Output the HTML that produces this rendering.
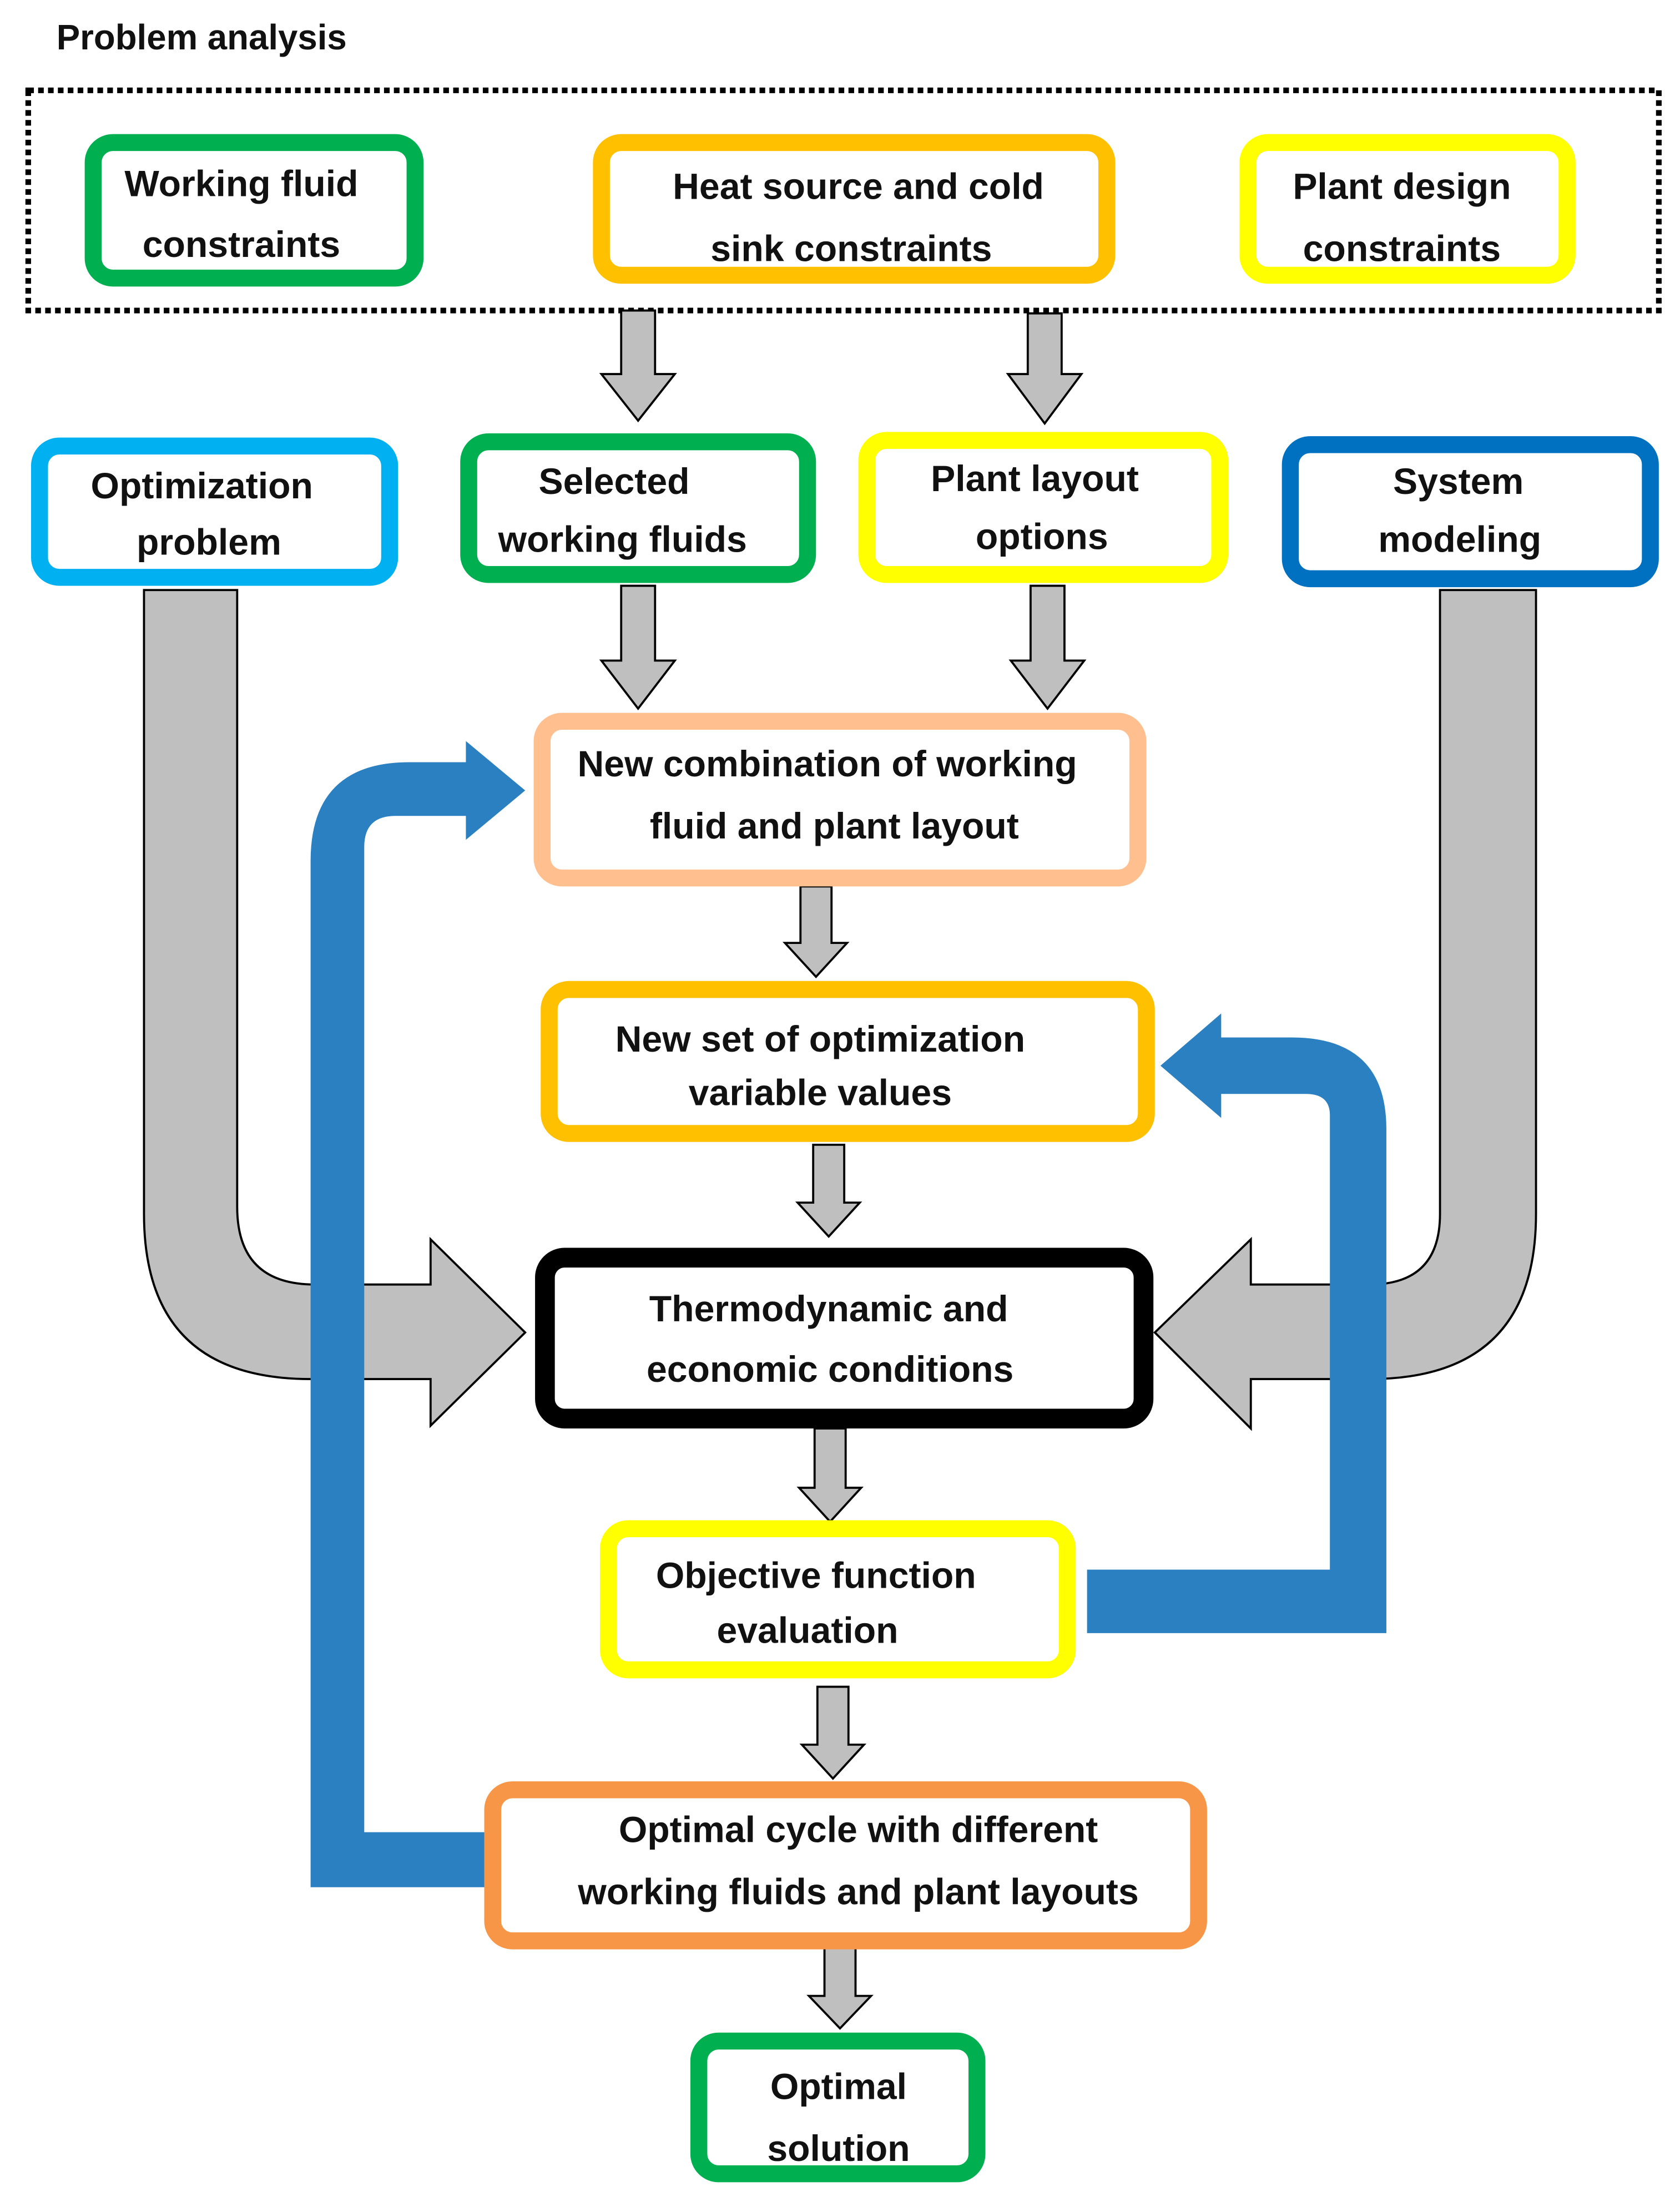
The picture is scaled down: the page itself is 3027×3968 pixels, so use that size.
<!DOCTYPE html>
<html><head><meta charset="utf-8"><style>
html,body{margin:0;padding:0;background:#fff;}
svg{display:block;}
text{font-family:"Liberation Sans",sans-serif;font-weight:bold;font-size:26px;fill:#111;text-anchor:middle;}
</style></head><body>
<svg width="3027" height="3968" viewBox="0 0 1190 1560" preserveAspectRatio="none" xmlns="http://www.w3.org/2000/svg">
<rect width="1190" height="1560" fill="#fff"/>
<text x="40" y="35" style="text-anchor:start;font-size:25px">Problem analysis</text>
<rect x="20" y="64" width="1155" height="156" fill="none" stroke="#000" stroke-width="4" stroke-dasharray="4,3"/>

<g fill="#bfbfbf" stroke="#000" stroke-width="1.5">
<path d="M102,418 L168,418 L168,855 Q168,910 223,910 L305,910 L305,878 L372,944 L305,1010 L305,977 L220,977 Q102,977 102,860 Z"/>
<path d="M1088,418 L1020,418 L1020,860 Q1020,910 970,910 L886,910 L886,878 L818,944 L886,1012 L886,977 L970,977 Q1088,977 1088,860 Z"/>
</g>

<g fill="#bfbfbf" stroke="#000" stroke-width="1.5">
<path d="M440,220 L464,220 L464,265 L478,265 L452,298 L426,265 L440,265 Z"/>
<path d="M728,222 L752,222 L752,265 L766,265 L740,300 L714,265 L728,265 Z"/>
<path d="M440,415 L464,415 L464,468 L478,468 L452,502 L426,468 L440,468 Z"/>
<path d="M730,415 L754,415 L754,468 L768,468 L742,502 L716,468 L730,468 Z"/>
<path d="M567,628 L589,628 L589,668 L600,668 L578,692 L556,668 L567,668 Z"/>
<path d="M576,811 L598,811 L598,852 L609,852 L587,876 L565,852 L576,852 Z"/>
<path d="M577,1012 L599,1012 L599,1054 L610,1054 L588,1078 L566,1054 L577,1054 Z"/>
<path d="M579,1195 L601,1195 L601,1236 L612,1236 L590,1260 L568,1236 L579,1236 Z"/>
<path d="M584,1380 L606,1380 L606,1414 L617,1414 L595,1437 L573,1414 L584,1414 Z"/>
</g>

<g fill="#2a80c0">
<path d="M345,1298 L258,1298 L258,600 Q258,578 280,578 L330,578 L330,595 L372,560 L330,525 L330,540 L290,540 Q220,540 220,610 L220,1337 L345,1337 Z"/>
<path d="M770,1112 L942,1112 L942,790 Q942,775 925,775 L865,775 L865,792 L822,755 L865,718 L865,735 L915,735 Q982,735 982,800 L982,1157 L770,1157 Z"/>
</g>

<g fill="#fff" stroke-width="12">
<rect x="66" y="101" width="228" height="96" rx="14" stroke="#00b050"/>
<rect x="426" y="101" width="358" height="94" rx="14" stroke="#ffc000"/>
<rect x="884" y="101" width="226" height="94" rx="14" stroke="#ffff00"/>
<rect x="28" y="316" width="248" height="93" rx="14" stroke="#00b0f0"/>
<rect x="332" y="313" width="240" height="94" rx="14" stroke="#00b050"/>
<rect x="614" y="312" width="250" height="95" rx="14" stroke="#ffff00"/>
<rect x="914" y="315" width="255" height="95" rx="14" stroke="#0070c0"/>
<rect x="384" y="511" width="422" height="111" rx="14" stroke="#ffbf8f"/>
<rect x="389" y="701" width="423" height="102" rx="14" stroke="#ffc000"/>
<rect x="386" y="891" width="424" height="114" rx="14" stroke="#000" stroke-width="14"/>
<rect x="431" y="1083" width="325" height="100" rx="14" stroke="#ffff00"/>
<rect x="349" y="1268" width="500" height="107" rx="14" stroke="#f79646"/>
<rect x="495" y="1446" width="197" height="94" rx="14" stroke="#00b050"/>
</g>

<text x="171" y="139">Working fluid</text>
<text x="171" y="182">constraints</text>
<text x="608" y="141">Heat source and cold</text>
<text x="603" y="185">sink constraints</text>
<text x="993" y="141">Plant design</text>
<text x="993" y="185">constraints</text>
<text x="143" y="353">Optimization</text>
<text x="148" y="393">problem</text>
<text x="435" y="350">Selected</text>
<text x="441" y="391">working fluids</text>
<text x="733" y="348">Plant layout</text>
<text x="738" y="389">options</text>
<text x="1033" y="350">System</text>
<text x="1034" y="391">modeling</text>
<text x="586" y="550">New combination of working</text>
<text x="591" y="594">fluid and plant layout</text>
<text x="581" y="745">New set of optimization</text>
<text x="581" y="783">variable values</text>
<text x="587" y="936">Thermodynamic and</text>
<text x="588" y="979">economic conditions</text>
<text x="578" y="1125">Objective function</text>
<text x="572" y="1164">evaluation</text>
<text x="608" y="1305">Optimal cycle with different</text>
<text x="608" y="1349">working fluids and plant layouts</text>
<text x="594" y="1487">Optimal</text>
<text x="594" y="1531">solution</text>
</svg>
</body></html>
